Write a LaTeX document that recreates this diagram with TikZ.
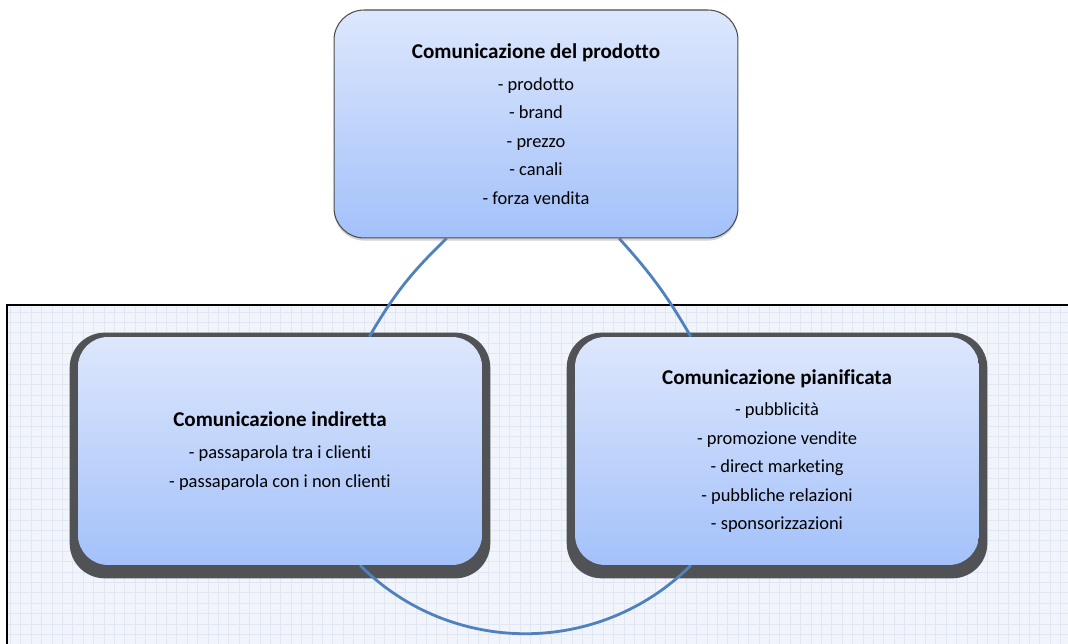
\documentclass[tikz,border=0pt]{standalone}
\usepackage{fontspec}
\setmainfont{Carlito}[Ligatures=NoCommon]
\usetikzlibrary{shadows,calc}

\definecolor{boxtop}{HTML}{DDE7FC}
\definecolor{boxbottom}{HTML}{A3C1FA}
\definecolor{ringblue}{HTML}{4F81BD}
\definecolor{gridbg}{HTML}{F1F5FB}
\definecolor{gridline}{HTML}{E0E7F3}
\definecolor{shadowgray}{HTML}{505256}

\pgfdeclarelayer{sheet}
\pgfdeclarelayer{shade}
\pgfdeclarelayer{ringlayer}
\pgfsetlayers{sheet,shade,ringlayer,main}

\newcommand{\boxtitle}[1]{{\bfseries\fontsize{12}{16.2}\selectfont #1}\\[1.9pt]}

\begin{document}
\begin{tikzpicture}[x=0.02cm, y=-0.02cm,
    every node/.style={font=\fontsize{10.5}{16.2}\selectfont, align=center},
    box/.style={rectangle, rounded corners=0.6cm, inner sep=0pt,
        minimum width=8.08cm, minimum height=4.56cm,
        top color=boxtop, bottom color=boxbottom},
    deepshadow/.style={fill=shadowgray, rounded corners=0.7cm},
    flat/.style={draw=gray!60!black, line width=0.6pt,
        drop shadow={shadow xshift=0pt, shadow yshift=-1.5pt, opacity=0.35}},
    ring/.style={draw=ringblue, line width=1.6pt}
    ]
\clip (0,0) rectangle (1068,644);
% \draw[help lines] (0,644) grid (1068,0);

% squared sheet behind the two lower boxes
\begin{pgfonlayer}{sheet}
\fill[gridbg] (7,305) rectangle (1068,644);
\draw[gridline, step=0.208cm] (7,644) grid (1068,305);
\draw[line width=1.1pt] (7,644) -- (7,305) -- (1068,305);
\end{pgfonlayer}

\node[box, flat] (prod) at (536,124) {\boxtitle{Comunicazione del prodotto}
    - prodotto\\ - brand\\ - prezzo\\ - canali\\ - forza vendita};
\node[box] (ind) at (280,451) {\boxtitle{Comunicazione indiretta}
    - passaparola tra i clienti\\ - passaparola con i non clienti};
\node[box] (pian) at (777,451) {\boxtitle{Comunicazione pianificata}
    - pubblicità\\ - promozione vendite\\ - direct marketing\\
    - pubbliche relazioni\\ - sponsorizzazioni};

% heavy shadows of the lower boxes
\begin{pgfonlayer}{shade}
\foreach \b in {ind,pian}
  \fill[deepshadow] ($(\b.north west)+(-8,-4)$) rectangle ($(\b.south east)+(8,13)$);
\end{pgfonlayer}

\begin{pgfonlayer}{ringlayer}
\path[ring]
(prod.232) edge [bend right=8]  (ind.52)
(prod.306) edge [bend left=6]   (pian.127)
(ind.305)  edge [bend right=45] (pian.233)
;
\end{pgfonlayer}
\end{tikzpicture}
\end{document}
